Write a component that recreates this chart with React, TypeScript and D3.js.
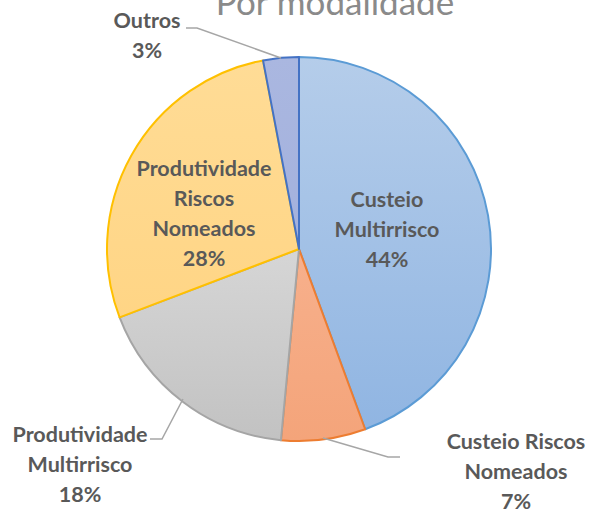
import React from "react";
import * as d3 from "d3";

const categories = [
  "Custeio Multirrisco",
  "Custeio Riscos Nomeados",
  "Produtividade Multirrisco",
  "Produtividade Riscos Nomeados",
  "Outros",
];
const values = [44.4, 7.1, 17.7, 27.8, 3.0];
const percentLabels = ["44%", "7%", "18%", "28%", "3%"];
const labelLines = [
  ["Custeio", "Multirrisco"],
  ["Custeio Riscos", "Nomeados"],
  ["Produtividade", "Multirrisco"],
  ["Produtividade", "Riscos", "Nomeados"],
  ["Outros"],
];
const title = "Por modalidade";

const fillTop = ["#b5cdea", "#f7b08c", "#d6d6d6", "#ffdc96", "#aab7e0"];
const fillBottom = ["#90b5e2", "#f4a47a", "#c2c2c2", "#ffd585", "#a3b1dd"];
const strokes = ["#5b9bd5", "#ed7d31", "#a5a5a5", "#ffc000", "#4472c4"];

// label anchor (center x, first line center y)
const labelPos: [number, number][] = [
  [387, 199],
  [516, 441],
  [80, 434],
  [204, 168],
  [147, 20],
];
const leaders: ([number, number][] | null)[] = [
  null,
  [[323, 438], [388, 457], [400, 457]],
  [[183, 399], [162, 439], [150, 439]],
  null,
  [[281, 58], [197, 28], [186, 28]],
];

export default function App() {
  const W = 591, H = 509;
  const cx = 299, cy = 249, r = 192;
  const pie = d3.pie<number>().sort(null).value((d) => d)(values);
  const arc = d3.arc<d3.PieArcDatum<number>>().innerRadius(0).outerRadius(r);
  const line = d3.line();
  const fontFamily = "Lato, 'Open Sans', sans-serif";
  return (
    <svg width={W} height={H} style={{ position: "absolute", left: 0, top: 0 }}>
      <defs>
        {categories.map((c, i) => (
          <linearGradient key={c} id={`g${i}`} x1="0" y1="0" x2="0" y2="1">
            <stop offset="0" stopColor={fillTop[i]} />
            <stop offset="1" stopColor={fillBottom[i]} />
          </linearGradient>
        ))}
      </defs>
      <rect width={W} height={H} fill="#ffffff" />
      <text x={cx + 36} y={15} textAnchor="middle" fontFamily={fontFamily} fontSize={35} fill="#8a8a8a">
        {title}
      </text>
      <g transform={`translate(${cx},${cy})`}>
        {pie.map((p, i) => (
          <path key={i} d={arc(p) || ""} fill={`url(#g${i})`} stroke={strokes[i]} strokeWidth={2} strokeLinejoin="round" />
        ))}
      </g>
      {leaders.map((l, i) =>
        l ? <path key={i} d={line(l) || ""} fill="none" stroke="#a6a6a6" strokeWidth={1.5} /> : null
      )}
      {labelLines.map((lines, i) => {
        const [x, y] = labelPos[i];
        const all = [...lines, percentLabels[i]];
        return (
          <text key={i} textAnchor="middle" fontFamily={fontFamily} fontWeight="bold" fontSize={21.5} fill="#595959">
            {all.map((t, j) => (
              <tspan key={j} x={x} y={y + j * 30} dy="0.35em">{t}</tspan>
            ))}
          </text>
        );
      })}
    </svg>
  );
}
